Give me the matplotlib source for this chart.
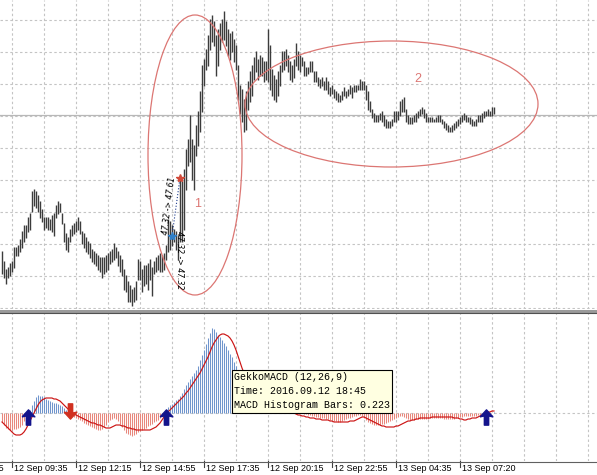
import matplotlib
matplotlib.use("Agg")
import matplotlib.pyplot as plt
import numpy as np
from matplotlib.patches import Ellipse, Rectangle
from matplotlib.path import Path
from matplotlib.lines import Line2D

# ---- price bars (cents), one per M5 bar, bar 1 .. 247
high_c = [
    4724, 4719, 4715, 4716, 4718, 4719, 4726, 4726, 4727, 4730, 4734, 4737, 4737, 4741, 4743, 4754,
    4755, 4754, 4752, 4749, 4745, 4741, 4741, 4741, 4740, 4742, 4743, 4747, 4749, 4748, 4743, 4738,
    4733, 4731, 4735, 4737, 4738, 4739, 4741, 4739, 4734, 4733, 4731, 4729, 4728, 4725, 4724, 4723,
    4722, 4721, 4721, 4721, 4722, 4723, 4724, 4725, 4728, 4726, 4724, 4722, 4720, 4715, 4712, 4709,
    4707, 4705, 4706, 4709, 4720, 4719, 4715, 4717, 4717, 4718, 4720, 4716, 4719, 4721, 4722, 4723,
    4722, 4723, 4727, 4740, 4739, 4737, 4735, 4734, 4732, 4762, 4759, 4765, 4775, 4780, 4792, 4780,
    4777, 4787, 4794, 4804, 4817, 4820, 4825, 4832, 4840, 4842, 4839, 4832, 4835, 4838, 4840, 4844,
    4839, 4835, 4833, 4834, 4830, 4827, 4817, 4807, 4805, 4800, 4804, 4809, 4814, 4817, 4821, 4824,
    4820, 4822, 4821, 4819, 4819, 4835, 4827, 4815, 4812, 4810, 4814, 4817, 4824, 4824, 4825, 4822,
    4819, 4817, 4820, 4828, 4824, 4822, 4821, 4819, 4816, 4816, 4819, 4819, 4814, 4814, 4811, 4810,
    4811, 4809, 4811, 4809, 4806, 4807, 4805, 4804, 4803, 4802, 4804, 4806, 4804, 4805, 4807, 4806,
    4807, 4807, 4807, 4810, 4809, 4809, 4807, 4804, 4799, 4795, 4793, 4792, 4792, 4793, 4794, 4792,
    4790, 4789, 4789, 4790, 4794, 4794, 4794, 4799, 4800, 4801, 4795, 4792, 4791, 4791, 4792, 4793,
    4794, 4795, 4796, 4795, 4793, 4791, 4791, 4791, 4790, 4791, 4792, 4792, 4790, 4789, 4788, 4787,
    4786, 4787, 4788, 4789, 4790, 4791, 4792, 4793, 4792, 4791, 4791, 4790, 4789, 4790, 4792, 4792,
    4793, 4794, 4794, 4795, 4794, 4796, 4796,
]
low_c = [
    4713, 4711, 4708, 4711, 4712, 4714, 4716, 4722, 4722, 4724, 4726, 4729, 4731, 4734, 4735, 4744,
    4747, 4746, 4744, 4741, 4739, 4735, 4736, 4735, 4735, 4734, 4732, 4741, 4743, 4744, 4738, 4729,
    4725, 4724, 4729, 4732, 4733, 4734, 4735, 4733, 4728, 4726, 4724, 4723, 4721, 4719, 4718, 4717,
    4715, 4714, 4711, 4713, 4714, 4715, 4718, 4719, 4720, 4721, 4717, 4714, 4712, 4705, 4704, 4699,
    4699, 4697, 4699, 4700, 4710, 4710, 4704, 4707, 4708, 4705, 4710, 4702, 4713, 4714, 4715, 4714,
    4714, 4715, 4720, 4724, 4725, 4727, 4729, 4725, 4720, 4729, 4729, 4735, 4755, 4767, 4769, 4760,
    4755, 4772, 4777, 4784, 4794, 4807, 4815, 4817, 4825, 4829, 4827, 4812, 4817, 4825, 4829, 4830,
    4827, 4822, 4820, 4824, 4819, 4815, 4800, 4793, 4789, 4784, 4785, 4795, 4799, 4802, 4810, 4814,
    4810, 4812, 4812, 4809, 4810, 4809, 4805, 4802, 4800, 4799, 4802, 4807, 4814, 4815, 4817, 4814,
    4810, 4809, 4811, 4817, 4815, 4814, 4817, 4812, 4812, 4813, 4814, 4814, 4809, 4809, 4807, 4806,
    4807, 4805, 4805, 4803, 4802, 4803, 4801, 4800, 4799, 4799, 4800, 4802, 4801, 4802, 4803, 4801,
    4804, 4804, 4805, 4805, 4805, 4805, 4800, 4795, 4794, 4791, 4789, 4789, 4789, 4790, 4789, 4787,
    4786, 4786, 4786, 4787, 4789, 4789, 4790, 4792, 4794, 4794, 4789, 4788, 4788, 4788, 4789, 4789,
    4791, 4792, 4793, 4791, 4789, 4789, 4789, 4789, 4789, 4789, 4789, 4789, 4788, 4786, 4785, 4784,
    4784, 4784, 4785, 4786, 4787, 4788, 4789, 4790, 4789, 4789, 4788, 4787, 4787, 4787, 4789, 4789,
    4789, 4791, 4792, 4792, 4792, 4792, 4793,
]

# ---- GekkoMACD histogram and signal line (x1000)
hist_k = [
    -36, -48, -60, -64, -68, -68, -64, -64, -60, -56, -48, -32, -16, -4, 12, 32,
    48, 64, 72, 68, 68, 64, 56, 52, 48, 44, 40, 40, 36, 32, 28, 20,
    12, 4, -4, -8, -16, -20, -24, -28, -32, -40, -44, -48, -52, -56, -60, -64,
    -68, -68, -64, -56, -48, -36, -28, -24, -20, -24, -32, -44, -56, -68, -80, -84,
    -88, -92, -88, -84, -76, -72, -68, -64, -60, -52, -48, -44, -36, -32, -28, -20,
    -12, -4, 12, 24, 32, 36, 44, 52, 56, 68, 80, 96, 112, 124, 136, 148,
    160, 172, 188, 212, 232, 252, 276, 300, 320, 340, 336, 324, 312, 304, 292, 280,
    268, 252, 236, 224, 204, 188, 172, 160, 148, 136, 124, 112, 104, 96, 88, 80,
    72, 68, 60, 56, 56, 60, 56, 48, 40, 32, 28, 24, 24, 24, 20, 16,
    12, 12, 8, 8, 8, 4, 0, -4, -4, -8, -8, -12, -12, -16, -16, -20,
    -20, -20, -24, -24, -28, -28, -32, -32, -36, -36, -32, -28, -24, -20, -20, -16,
    -12, -12, -8, -8, -12, -20, -28, -36, -40, -44, -48, -48, -48, -48, -44, -44,
    -40, -36, -32, -28, -24, -20, -16, -12, -12, -16, -20, -24, -28, -28, -28, -24,
    -24, -24, -24, -24, -24, -24, -20, -20, -20, -20, -20, -20, -20, -24, -24, -24,
    -24, -24, -24, -20, -20, -16, -16, -12, -12, -12, -12, -12, -12, -12, -8, -8,
    -4, -4, 0, 0, 0, 0, 4,
]
signal_k = [
    -36, -44, -52, -60, -68, -76, -84, -88, -88, -88, -84, -76, -64, -48, -32, -16,
    0, 16, 32, 44, 52, 56, 60, 60, 60, 60, 56, 56, 52, 48, 40, 32,
    24, 16, 8, 0, -4, -8, -12, -16, -20, -24, -28, -32, -36, -40, -40, -44,
    -48, -48, -52, -56, -60, -60, -60, -56, -52, -48, -48, -48, -52, -52, -56, -60,
    -60, -64, -64, -68, -68, -68, -68, -68, -68, -68, -68, -64, -60, -56, -48, -40,
    -28, -16, -4, 4, 12, 20, 28, 36, 44, 52, 60, 68, 80, 88, 100, 112,
    124, 136, 148, 160, 176, 192, 208, 224, 244, 264, 280, 292, 304, 312, 316, 316,
    312, 308, 300, 288, 272, 252, 228, 204, 180, 160, 140, 124, 112, 100, 88, 80,
    72, 64, 60, 56, 52, 48, 48, 44, 40, 36, 32, 28, 24, 20, 16, 12,
    8, 4, 0, -4, -8, -8, -12, -12, -16, -16, -20, -20, -20, -24, -24, -24,
    -28, -28, -28, -28, -32, -32, -36, -36, -36, -36, -36, -36, -36, -36, -32, -32,
    -32, -28, -24, -20, -16, -16, -20, -24, -28, -32, -36, -40, -44, -48, -52, -52,
    -56, -56, -56, -56, -56, -52, -52, -48, -44, -40, -36, -32, -32, -28, -28, -24,
    -24, -20, -20, -20, -20, -20, -20, -16, -16, -16, -16, -16, -16, -16, -16, -16,
    -16, -16, -20, -20, -20, -24, -24, -28, -28, -24, -24, -20, -20, -20, -16, -12,
    -8, -4, 0, 4, 4, 8, 8,
]

up_arrow_bars = [14, 83, 243]
down_arrow_bars = [35]

# time axis labels and the bar each falls on
time_labels = ["12 Sep 06:55", "12 Sep 09:35", "12 Sep 12:15", "12 Sep 14:55", "12 Sep 17:35",
               "12 Sep 20:15", "12 Sep 22:55", "13 Sep 04:35", "13 Sep 07:20"]
label_bars = [-26, 6, 38, 70, 102, 134, 166, 198, 230]

# trade drawn on the chart
trade_bars = [86, 90]
trade_prices = [47.32, 47.61]
hline_price = 47.925

W, H = 597, 475
high = np.array(high_c) / 100
low = np.array(low_c) / 100
hist = np.array(hist_k) / 1000
signal = np.array(signal_k) / 1000
bars = np.arange(1, len(high) + 1)

GRID = "#c4c4c4"
DASH = (0, (2.2, 2.2))
RED_OBJ = "#dc7673"

fig = plt.figure(figsize=(W / 100, H / 100), dpi=100)
fig.patch.set_facecolor("white")

def fx(px):
    return px / W

def fy(py):
    return 1 - py / H

ax = fig.add_axes([0, fy(309), 1, 309 / H])
axl = fig.add_axes([0, fy(461), 1, (461 - 313) / H])
for a in (ax, axl):
    a.set_xlim(0, W / 2)
    a.set_xticks([]); a.set_yticks([])
    for s in a.spines.values():
        s.set_visible(False)
ax.set_ylim(48.50 - 309 / 200, 48.50)
axl.set_ylim(-0.192, 0.400)

# grid
for g in np.arange(6, W / 2, 16):
    ax.axvline(g, color=GRID, lw=0.8, ls=DASH, zorder=0)
    axl.axvline(g, color=GRID, lw=0.8, ls=DASH, zorder=0)
for p in np.arange(48.40, 46.9, -0.16):
    ax.axhline(p, color=GRID, lw=0.8, ls=DASH, zorder=0)
ax.axhline(hline_price, color="#b8b8b8", lw=0.9, zorder=1)

# price bars
ax.vlines(bars, low, high + 0.004, color="#3c3c3c", lw=1.0, zorder=3)

# ellipses + labels
ax.add_patch(Ellipse((97.5, 47.725), 47, 1.40, fill=False, ec=RED_OBJ, lw=0.9, zorder=4))
ax.add_patch(Ellipse((195.75, 47.98), 146.5, 0.63, fill=False, ec=RED_OBJ, lw=0.9, zorder=4))
ax.text(99, 47.48, "1", color=RED_OBJ, fontsize=9, ha="center", va="center", family="Liberation Sans")
ax.text(209, 48.105, "2", color=RED_OBJ, fontsize=9, ha="center", va="center", family="Liberation Sans")

# trade
ax.plot(trade_bars, trade_prices, color="#1e3c8c", lw=0.8, ls=":", zorder=5)
ax.plot([trade_bars[0]], [trade_prices[0]], marker="*", color="#2f7fc8", ms=6, zorder=6)
ax.plot([trade_bars[1]], [trade_prices[1]], marker="*", color="#d24a3a", ms=6, zorder=6)
ax.text(84.3, 47.47, "%.2f -> %.2f" % (trade_prices[0], trade_prices[1]), rotation=83,
        fontsize=5.6, style="italic", ha="center", va="center", zorder=6)
ax.text(89.6, 47.20, "%.2f -> %.2f" % (trade_prices[0], trade_prices[0]), rotation=-90,
        fontsize=5.6, style="italic", ha="center", va="center", zorder=6)

# MACD pane
pos = hist > 0
axl.axhline(0, color=GRID, lw=0.8, ls=DASH, zorder=0)
axl.vlines(bars[pos], 0, hist[pos], color="#6f95cc", lw=0.75, zorder=2)
axl.vlines(bars[~pos], 0, hist[~pos], color="#e8877c", lw=0.75, zorder=2)
axl.plot(bars, signal, color="#cc1414", lw=0.85, zorder=3)

up = Path([(-0.5, 0.05), (0, 0.6), (0.5, 0.05), (0.17, 0.12), (0.17, -0.6),
           (-0.17, -0.6), (-0.17, 0.12), (-0.5, 0.05)])
dn = Path([(x, -y) for x, y in up.vertices])
axl.plot(up_arrow_bars, [-0.014] * len(up_arrow_bars), ls="none", marker=up, ms=11,
         color="#14148c", zorder=5)
axl.plot(down_arrow_bars, [0.008] * len(down_arrow_bars), ls="none", marker=dn, ms=11,
         color="#d03020", zorder=5)

# pane separator and bottom axis
fig.add_artist(Rectangle((0, fy(313)), 1, 3.5 / H, transform=fig.transFigure,
                         fc="#9a9a9a", ec="none"))
fig.add_artist(Line2D([0, 1], [fy(312.5), fy(312.5)], color="#505050", lw=0.8))
fig.add_artist(Line2D([0, 1], [fy(461.5), fy(461.5)], color="#606060", lw=0.8))

# time labels
tr = axl.get_xaxis_transform()
for b, lab in zip(label_bars, time_labels):
    axl.plot([b, b], [0, -0.04], color="#404040", lw=0.8, transform=tr, clip_on=False)
    axl.text(b + 1, -0.022, lab, transform=tr, fontsize=6.5, family="Liberation Sans",
             ha="left", va="top", clip_on=False)

# tooltip
fig.add_artist(Rectangle((fx(232), fy(413)), 160 / W, 43 / H, transform=fig.transFigure,
                         fc="#ffffe1", ec="black", lw=0.8, zorder=20))
tip = ["GekkoMACD (12,26,9)", "Time: 2016.09.12 18:45",
       "MACD Histogram Bars: %.3f" % 0.223]
for k, t in enumerate(tip):
    fig.text(fx(234), fy(377 + 14 * k), t, fontsize=7.2, family="Liberation Mono",
             va="center", ha="left", zorder=21)

fig.savefig("out.png", dpi=100)
